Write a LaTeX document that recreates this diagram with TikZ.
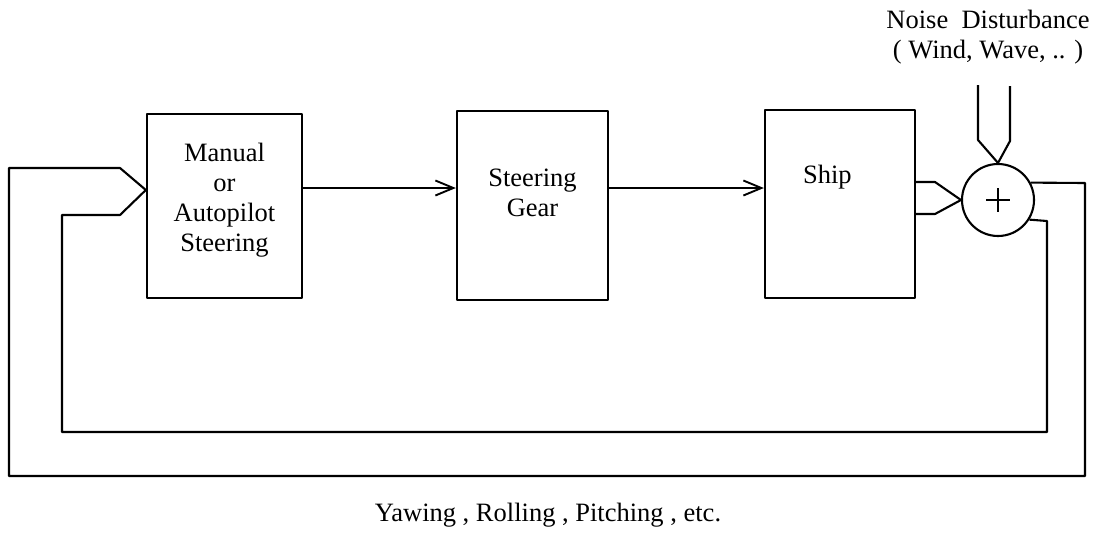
\documentclass[tikz,border=0pt]{standalone}
\usepackage{fontspec}
\setmainfont{Liberation Serif}
\usetikzlibrary{arrows.meta,calc}
\begin{document}
\begin{tikzpicture}[x=1pt,y=-1pt,
  line width=2.1pt, line join=round,
  blockbox/.style={draw, line width=2.3pt, inner sep=0pt},
  lbl/.style={font=\fontsize{26.5}{30}\selectfont, align=center, inner sep=0pt},
  arr/.style={-{Straight Barb[length=18pt,width=15pt,line width=1.9pt]}},
  sumnode/.style={draw, circle, minimum size=72pt, inner sep=0pt, line width=2.1pt}]
\useasboundingbox (0,0) rectangle (1097,552);
% blocks
\node[blockbox, minimum width=155pt, minimum height=184pt] (b1) at (224.5,206) {};
\node[lbl] (t1) at (224.5,200) {Manual\\or\\Autopilot\\Steering};
\node[blockbox, minimum width=151pt, minimum height=189pt] (b2) at (532.5,205.5) {};
\node[lbl] (t2) at (532.5,193) {Steering\\Gear};
\node[blockbox, minimum width=150pt, minimum height=188pt] (b3) at (840,204) {};
\node[lbl, anchor=base west] (t3) at (802,183) {Ship};
% summing junction
\node[sumnode] (sum) at (998,200) {};
\draw[line width=2.1pt] ($(sum.center)+(-12,0)$) -- ($(sum.center)+(12,0)$)
  ($(sum.center)+(0,-12)$) -- ($(sum.center)+(0,12)$);
% labels
\node[lbl] (noise) at (988,37) {Noise\ \ Disturbance\\( Wind, Wave, .. )};
\node[lbl] (yaw) at (548,515) {Yawing , Rolling , Pitching , etc.};
% forward arrows
\draw[arr] (b1.east |- 0,188) -- (b2.west |- 0,188);
\draw[arr] (b2.east |- 0,188) -- (b3.west |- 0,188);
% ship to sum (double line arrow)
\draw (b3.east |- 0,182) -- (935,182) -- (sum.west);
\draw (b3.east |- 0,214) -- (935,214) -- (sum.west);
% noise into sum
\coordinate (n1) at (978,85);
\coordinate (n2) at (1010,86);
\draw (n1) -- (978,140) -- (sum.north);
\draw (n2) -- (1010,141) -- (sum.north);
% outer feedback
\draw (sum.28) -- (1085,183) -- (1085,476) -- (9,476) -- (9,168) -- (120,168) -- (b1.west |- 0,190);
% inner feedback
\draw (sum.-32) -- (1047,221) -- (1047,432) -- (62,432) -- (62,215) -- (120,215) -- (b1.west |- 0,190);
\end{tikzpicture}
\end{document}
